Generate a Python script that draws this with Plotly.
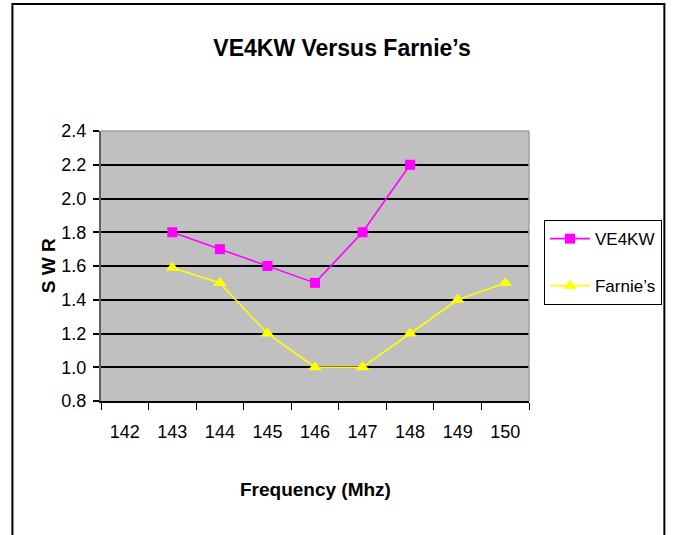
import plotly.graph_objects as go

categories = ["142", "143", "144", "145", "146", "147", "148", "149", "150"]
ve4kw_x = ["143", "144", "145", "146", "147", "148"]
ve4kw_y = [1.8, 1.7, 1.6, 1.5, 1.8, 2.2]
farnie_x = ["143", "144", "145", "146", "147", "148", "149", "150"]
farnie_y = [1.59, 1.5, 1.2, 1.0, 1.0, 1.2, 1.4, 1.5]
y_ticks = [0.8, 1.0, 1.2, 1.4, 1.6, 1.8, 2.0, 2.2, 2.4]

FONT = "Liberation Sans, Arial, sans-serif"

fig = go.Figure()
fig.add_trace(go.Scatter(
    x=ve4kw_x, y=ve4kw_y, name="VE4KW", mode="lines+markers",
    legendgroup="a",
    line=dict(color="#FF00FF", width=1.6),
    marker=dict(symbol="square", size=10, color="#FF00FF"),
))
fig.add_trace(go.Scatter(
    x=farnie_x, y=farnie_y, name="Farnie’s", mode="lines+markers",
    legendgroup="b",
    line=dict(color="#FFFF00", width=1.6),
    marker=dict(symbol="triangle-up", size=12, color="#FFFF00"),
))

fig.update_layout(
    width=674, height=535,
    margin=dict(l=101, r=143, t=131, b=134),
    paper_bgcolor="white",
    plot_bgcolor="#C0C0C0",
    font=dict(family=FONT, size=17, color="black"),
    title=dict(text="<b>VE4KW Versus Farnie’s</b>",
               x=342 / 674, xanchor="center",
               y=1 - 48 / 535, yanchor="middle",
               font=dict(family=FONT, size=23, color="black")),
    showlegend=True,
    legend=dict(x=1.035, y=0.67, xanchor="left", yanchor="top",
                bgcolor="white", bordercolor="black", borderwidth=1,
                font=dict(family=FONT, size=17, color="black"),
                itemwidth=40, tracegroupgap=22),
    xaxis=dict(
        type="category", categoryorder="array", categoryarray=categories,
        tickvals=categories, range=[-0.5, len(categories) - 0.5],
        tickson="boundaries", ticks="outside", ticklen=7, tickcolor="black",
        tickwidth=1, showgrid=False, showline=True, linecolor="black",
        linewidth=1.5, mirror=False, ticklabelstandoff=14,
        tickfont=dict(family=FONT, size=18, color="black"),
    ),
    yaxis=dict(
        range=[0.8, 2.4], tickvals=y_ticks, tickformat=".1f",
        ticks="outside", ticklen=6, tickcolor="black", tickwidth=1.5,
        showgrid=True, gridcolor="black", gridwidth=1.5,
        showline=True, linecolor="#606060", linewidth=2, zeroline=False,
        ticklabelstandoff=3,
        tickfont=dict(family=FONT, size=18, color="black"),
    ),
    annotations=[
        dict(text="<b>Frequency (Mhz)</b>", xref="paper", yref="paper",
             x=0.5, y=-(490 - 401) / 270, xanchor="center", yanchor="middle",
             showarrow=False, font=dict(family=FONT, size=19, color="black")),
        dict(text="<b>S W R</b>", xref="paper", yref="paper",
             x=-(101 - 48) / 430, y=0.5, xanchor="center", yanchor="middle",
             textangle=-90, showarrow=False,
             font=dict(family=FONT, size=19, color="black")),
    ],
    shapes=[
        dict(type="line", xref="paper", yref="paper", x0=0, x1=1, y0=1, y1=1,
             line=dict(color="#A0A0A0", width=1.5)),
        dict(type="line", xref="paper", yref="paper", x0=1, x1=1, y0=0, y1=1,
             line=dict(color="#A0A0A0", width=1.5)),
        dict(type="rect", xref="paper", yref="paper",
             x0=-(101 - 12) / 430, x1=(667 - 101) / 430,
             y0=-0.6, y1=(401 - 4) / 270,
             line=dict(color="black", width=2), layer="below"),
    ],
)

fig.write_html(
    "out.html",
    config={"displayModeBar": False},
    post_script="document.body.style.margin='0';document.body.style.overflow='hidden';",
)
